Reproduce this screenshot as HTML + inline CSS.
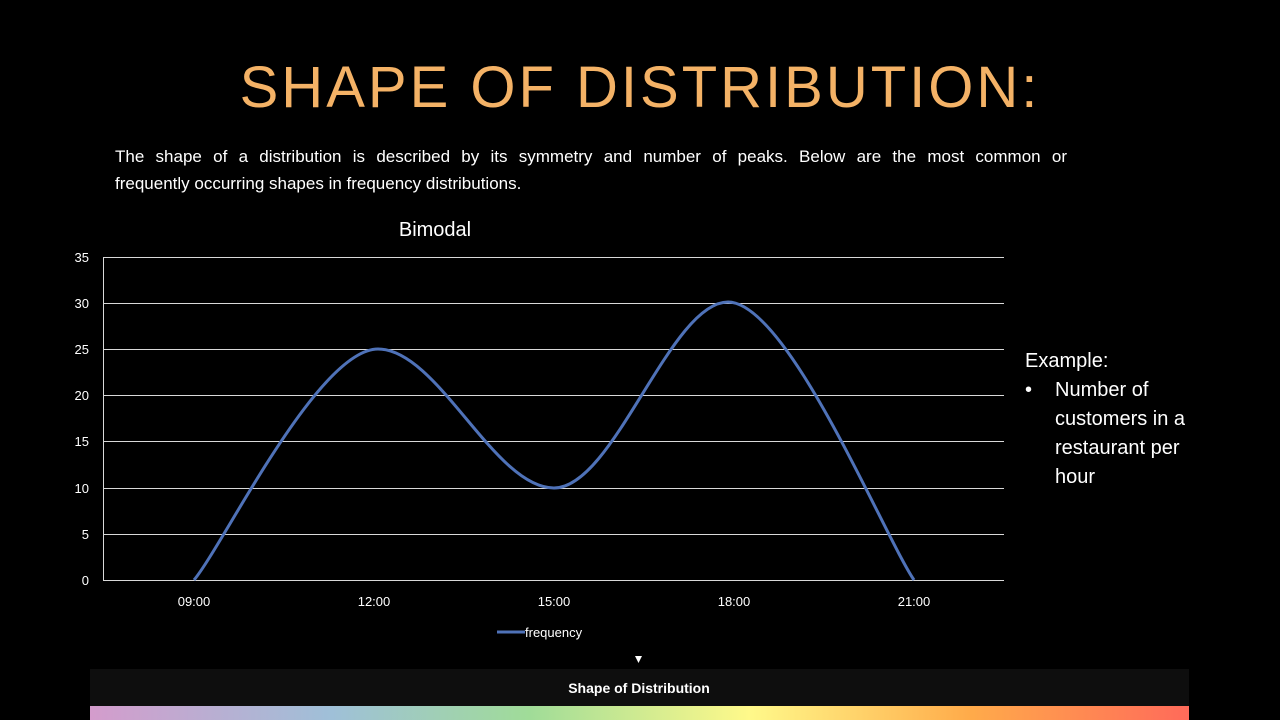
<!DOCTYPE html>
<html><head><meta charset="utf-8"><style>
body{margin:0;width:1280px;height:720px;background:#000;overflow:hidden;position:relative;font-family:"Liberation Sans",sans-serif;color:#fff}
.t{position:absolute;left:0;width:1280px;top:52px;text-align:center;font-size:58px;letter-spacing:3px;color:#f4b266;line-height:72px}
.p{position:absolute;left:115px;top:143px;font-size:17px;line-height:27px;width:952px}
.l1{text-align:justify;text-align-last:justify;white-space:nowrap}
.ex{position:absolute;left:1025px;top:347px;font-size:20px;line-height:29px}
</style></head><body>
<div class="t">SHAPE OF DISTRIBUTION:</div>
<div class="p"><div class="l1" style="white-space:normal">The shape of a distribution is described by its symmetry and number of peaks. Below are the most common or</div><div>frequently occurring shapes in frequency distributions.</div></div>
<svg width="1280" height="720" style="position:absolute;left:0;top:0">
<text x="435" y="236" font-size="20" fill="#fff" text-anchor="middle" font-family="Liberation Sans">Bimodal</text>
<g stroke="#d9d9d9" stroke-width="1">
<line x1="103" x2="1004" y1="257.5" y2="257.5"/><line x1="103" x2="1004" y1="303.5" y2="303.5"/>
<line x1="103" x2="1004" y1="349.5" y2="349.5"/><line x1="103" x2="1004" y1="395.5" y2="395.5"/>
<line x1="103" x2="1004" y1="441.5" y2="441.5"/><line x1="103" x2="1004" y1="488.5" y2="488.5"/>
<line x1="103" x2="1004" y1="534.5" y2="534.5"/><line x1="103" x2="1004" y1="580.5" y2="580.5"/>
<line x1="103.5" x2="103.5" y1="257" y2="580"/>
</g>
<g font-size="13" fill="#fff" text-anchor="end" font-family="Liberation Sans">
<text x="89" y="262">35</text><text x="89" y="308">30</text><text x="89" y="354">25</text><text x="89" y="400">20</text><text x="89" y="446">15</text><text x="89" y="493">10</text><text x="89" y="539">5</text><text x="89" y="585">0</text>
</g>
<g font-size="13" fill="#fff" text-anchor="middle" font-family="Liberation Sans">
<text x="194" y="606">09:00</text><text x="374" y="606">12:00</text><text x="554" y="606">15:00</text><text x="734" y="606">18:00</text><text x="914" y="606">21:00</text>
</g>
<path d="M194,580 C224,544 318,349 378,349 C438,349 494,488 554,488 C614,488 670,302 728,302 C788,302 884,536 914,580" fill="none" stroke="#4f72b8" stroke-width="3"/>
<line x1="497" x2="525" y1="632" y2="632" stroke="#4f72b8" stroke-width="3"/>
<text x="525" y="637" font-size="13" fill="#fff" font-family="Liberation Sans">frequency</text>
<polygon points="635,656 642,656 638.5,663" fill="#fff"/>
<rect x="90" y="669" width="1099" height="37" fill="#0e0e0e"/>
<text x="639" y="693" font-size="14" font-weight="bold" fill="#fff" text-anchor="middle" font-family="Liberation Sans">Shape of Distribution</text>
<defs><linearGradient id="g"><stop offset="0" stop-color="#d49ccc"/><stop offset="0.22" stop-color="#9fc0d8"/><stop offset="0.4" stop-color="#a0dc98"/><stop offset="0.6" stop-color="#fff98a"/><stop offset="0.8" stop-color="#ffab4a"/><stop offset="1" stop-color="#ff6a5a"/></linearGradient></defs>
<rect x="90" y="706" width="1099" height="14" fill="url(#g)"/>
</svg>
<div class="ex">Example:<br><span style="display:inline-block;width:30px">•</span>Number of<br><span style="padding-left:30px">customers in a</span><br><span style="padding-left:30px">restaurant per</span><br><span style="padding-left:30px">hour</span></div>
</body></html>
